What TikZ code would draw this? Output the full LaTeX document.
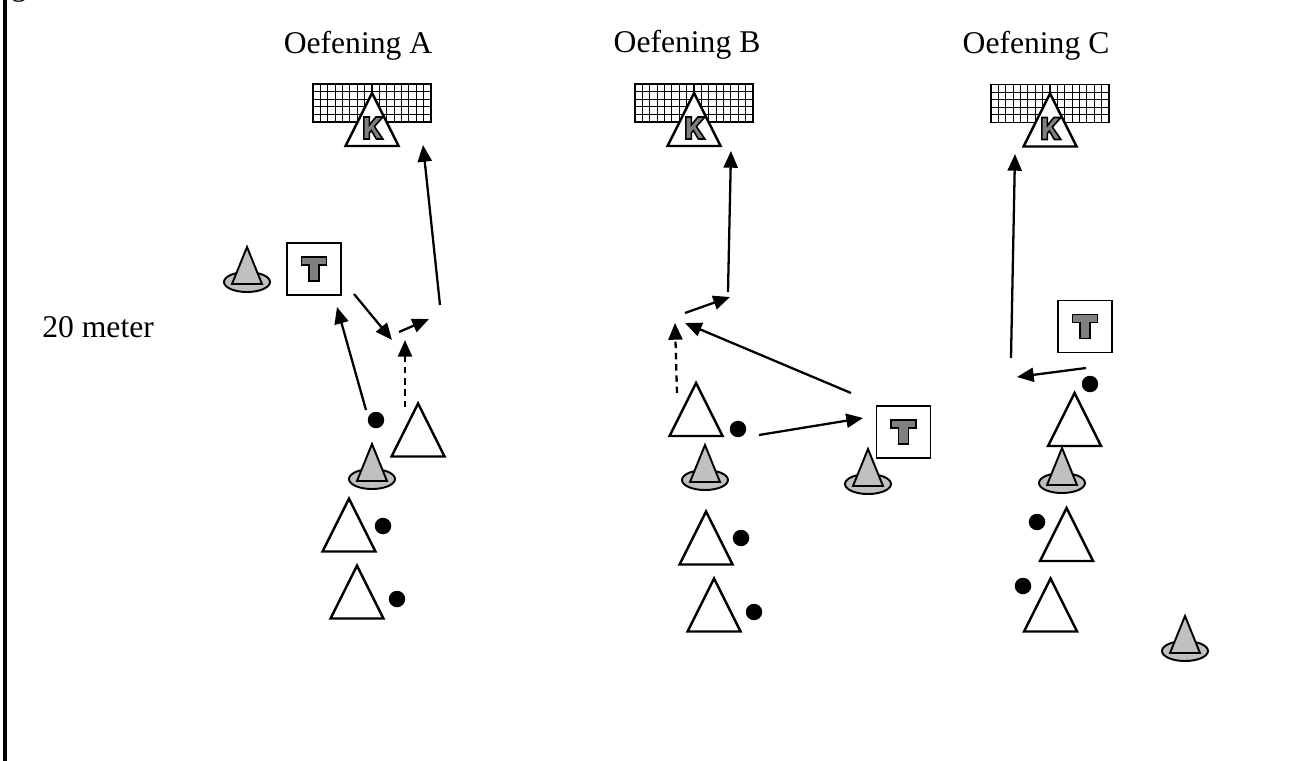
\documentclass[tikz,border=0pt]{standalone}
\usepackage{fontspec}
\setmainfont{Liberation Serif}
\usetikzlibrary{arrows.meta}

\definecolor{conegray}{HTML}{C0C0C0}
\definecolor{lettergray}{HTML}{808080}

\tikzset{
    figline/.style={line width=1.4pt, line join=miter},
    pass/.style={line width=1.3pt, -{Triangle[length=9.5pt,width=8pt]}},
    run/.style={pass, dash pattern=on 3.6pt off 2.8pt},
    ball/.style={circle, fill=black, inner sep=0pt, minimum size=0.33cm},
    title/.style={anchor=base, inner sep=0pt, font=\fontsize{18}{22}\selectfont},
    player/.pic={
        \draw[figline, fill=white] (0,-26.5) -- (26.5,26.5) -- (-26.5,26.5) -- cycle;
    },
    cone/.pic={
        \draw[line width=1.1pt, fill=conegray] (0,0) ellipse [x radius=23, y radius=10];
        \draw[line width=1.1pt, fill=conegray] (0,-35) -- (15,2) -- (-15,2) -- cycle;
    },
    trainer/.pic={
        \draw[line width=0.7pt, fill=white] (-27,-26) rectangle (27,26);
        \draw[line width=0.9pt, fill=lettergray] (-12.5,-12) -- (12.5,-12) -- (12.5,-4) -- (5,-4)
            -- (5,12) -- (-5,12) -- (-5,-4) -- (-12.5,-4) -- cycle;
    },
    goal/.pic={
        \fill[white] (-59,-19) rectangle (59,19);
        \foreach \gx in {1,...,15}
            \draw[line width=0.6pt] (-59+\gx*7.375,-19) -- (-59+\gx*7.375,19);
        \foreach \gy in {1,...,4}
            \draw[line width=0.6pt] (-59,-19+\gy*7.6) -- (59,-19+\gy*7.6);
        \draw[line width=1pt] (-59,-19) rectangle (59,19);
        \draw[figline, fill=white] (0,-10) -- (26.5,43) -- (-26.5,43) -- cycle;
        \draw[line width=0.9pt, fill=lettergray, xshift=0.5] (-9,14) -- (-3.5,14) -- (-3.5,22) -- (3,14)
            -- (10,14) -- (1.5,23.5) -- (10,36) -- (3.5,36) -- (-1.5,27.5) -- (-3.5,30)
            -- (-3.5,36) -- (-9,36) -- cycle;
    }
}

\begin{document}
\begin{tikzpicture}[x=0.02cm, y=-0.02cm]
    \useasboundingbox (0,0) rectangle (1313,761);

    % frame and texts
    \draw[line width=1.8pt] (5,0) -- (5,761);
    \node[title] (frag) at (19,-5) {g};
    \node[title] (titA) at (358,53) {Oefening A};
    \node[title] (titB) at (687,52) {Oefening B};
    \node[title] (titC) at (1036,53) {Oefening C};
    \node[title, anchor=base west] (dist) at (42,337) {20 meter};

    % Oefening A
    \pic (gA) at (372,103) {goal};
    \pic (tA) at (314,269) {trainer};
    \pic (cA1) at (247,282) {cone};
    \pic (cA2) at (372,479) {cone};
    \pic (pA1) at (418,430) {player};
    \pic (pA2) at (349,525) {player};
    \pic (pA3) at (357,592) {player};
    \node[ball] (bA1) at (376,420) {};
    \node[ball] (bA2) at (383,526) {};
    \node[ball] (bA3) at (397,599) {};

    \coordinate (sA1) at (366,410);
    \coordinate (eA1) at (337,307);
    \coordinate (sA2) at (354,294);
    \coordinate (eA2) at (392,340);
    \coordinate (sA3) at (399,332);
    \coordinate (eA3) at (429,319);
    \coordinate (sA4) at (405,407);
    \coordinate (eA4) at (405,340);
    \coordinate (sA5) at (440,305);
    \coordinate (eA5) at (423,145);
    \draw[pass] (sA1) -- (eA1);
    \draw[pass] (sA2) -- (eA2);
    \draw[pass] (sA3) -- (eA3);
    \draw[run] (sA4) -- (eA4);
    \draw[pass] (sA5) -- (eA5);

    % Oefening B
    \pic (gB) at (694,103) {goal};
    \pic (tB) at (903.5,432) {trainer};
    \pic (cB1) at (705,480) {cone};
    \pic (cB2) at (868,484) {cone};
    \pic (pB1) at (696,409.5) {player};
    \pic (pB2) at (706,538) {player};
    \pic (pB3) at (714,605) {player};
    \node[ball] (bB1) at (738,429) {};
    \node[ball] (bB2) at (741,538) {};
    \node[ball] (bB3) at (754,612) {};

    \coordinate (sB1) at (685,313);
    \coordinate (eB1) at (730,297);
    \coordinate (sB2) at (728,292);
    \coordinate (eB2) at (731,151);
    \coordinate (sB3) at (677,393);
    \coordinate (eB3) at (675,323);
    \coordinate (sB4) at (851,393);
    \coordinate (eB4) at (685,323);
    \coordinate (sB5) at (759,435);
    \coordinate (eB5) at (863,418);
    \draw[pass] (sB1) -- (eB1);
    \draw[pass] (sB2) -- (eB2);
    \draw[run] (sB3) -- (eB3);
    \draw[pass] (sB4) -- (eB4);
    \draw[pass] (sB5) -- (eB5);

    % Oefening C
    \pic (gC) at (1050,103.5) {goal};
    \pic (tC) at (1085,326.5) {trainer};
    \pic (cC1) at (1062,483) {cone};
    \pic (cC2) at (1185,651) {cone};
    \pic (pC1) at (1074.5,419.5) {player};
    \pic (pC2) at (1066.5,534.5) {player};
    \pic (pC3) at (1050.5,605) {player};
    \node[ball] (bC1) at (1090,384) {};
    \node[ball] (bC2) at (1037,522) {};
    \node[ball] (bC3) at (1023,586) {};

    \coordinate (sC1) at (1011,358);
    \coordinate (eC1) at (1015,154);
    \coordinate (sC2) at (1086,368);
    \coordinate (eC2) at (1017,377);
    \draw[pass] (sC1) -- (eC1);
    \draw[pass] (sC2) -- (eC2);
\end{tikzpicture}
\end{document}
